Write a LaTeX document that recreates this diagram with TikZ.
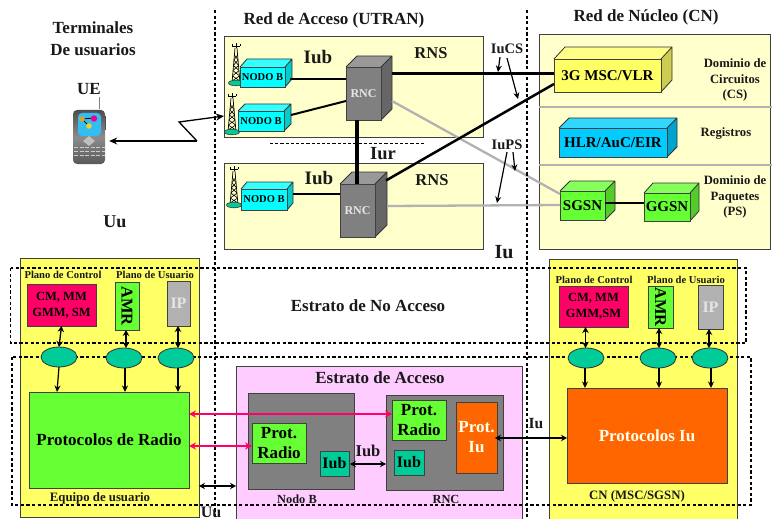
\documentclass[tikz,border=0pt]{standalone}
\usepackage{fontspec}
\usepackage{graphicx}
\setmainfont{Liberation Serif}
\usetikzlibrary{arrows.meta,calc,shapes.geometric}
\definecolor{paleY}{HTML}{FFFFCC}
\definecolor{yel}{HTML}{FFFF66}
\definecolor{lilac}{HTML}{FFCCFF}
\definecolor{crim}{HTML}{FF0066}
\definecolor{lime}{HTML}{66FF33}
\definecolor{teal2}{HTML}{00CC99}
\definecolor{orng}{HTML}{FF6600}
\definecolor{gr1}{HTML}{808080}
\definecolor{gr2}{HTML}{B2B2B2}
\definecolor{cyanF}{HTML}{00FFFF}\definecolor{cyanT}{HTML}{33FFFF}\definecolor{cyanS}{HTML}{00CCCC}
\definecolor{rncF}{HTML}{808080}\definecolor{rncT}{HTML}{999999}\definecolor{rncS}{HTML}{666666}
\definecolor{mscF}{HTML}{FFFF66}\definecolor{mscT}{HTML}{FFFF85}\definecolor{mscS}{HTML}{CCCC52}
\definecolor{hlrF}{HTML}{00CCFF}\definecolor{hlrT}{HTML}{33D6FF}\definecolor{hlrS}{HTML}{00A3CC}
\definecolor{sgF}{HTML}{66FF33}\definecolor{sgT}{HTML}{85FF5C}\definecolor{sgS}{HTML}{52CC29}
\newcommand{\ft}[1]{\fontsize{#1}{#1}\selectfont\bfseries}
\tikzset{
  x=1pt,y=-1pt,
  box/.style={draw=black!75,line width=0.9pt,inner sep=0pt,outer sep=0pt,align=center,text=black},
  lbl/.style={inner sep=0pt,align=center,text=black!90},
  conn/.style={line width=#1,draw=black},
  grayconn/.style={line width=2.3pt,draw=gr2},
  dbl/.style={line width=1.3pt,{Stealth[length=6pt,width=6.5pt]}-{Stealth[length=6pt,width=6.5pt]}},
  arr/.style={line width=1.2pt,-{Stealth[length=6.5pt,width=6pt]}},
  pinkarr/.style={line width=1.3pt,draw=crim,{Stealth[length=7pt,width=7pt]}-{Stealth[length=7pt,width=7pt]}},
  dashline/.style={line width=1.2pt,dash pattern=on 3.2pt off 2.4pt},
  sap/.style={ellipse,draw=black!80,line width=0.8pt,fill=teal2,minimum width=36pt,minimum height=20pt,inner sep=0pt,outer sep=0pt},
}
% name x1 y1 x2 y2 style text
\newcommand{\bx}[7]{\node[box,#6,minimum width={(#4-#2)*1pt},minimum height={(#5-#3)*1pt}] (#1) at ({(#2+#4)/2},{(#3+#5)/2}) {#7};}
% name x1 y1 x2 y2 dx dy colourprefix text
\newcommand{\cube}[9]{%
  \fill[#8T] (#2,#3) -- ({#2+#6},{#3-#7}) -- ({#4+#6},{#3-#7}) -- (#4,#3) -- cycle;
  \fill[#8S] (#4,#3) -- ({#4+#6},{#3-#7}) -- ({#4+#6},{#5-#7}) -- (#4,#5) -- cycle;
  \draw[black!80,line width=0.8pt,line join=round] (#2,#3) -- ({#2+#6},{#3-#7}) -- ({#4+#6},{#3-#7}) -- ({#4+#6},{#5-#7}) -- (#4,#5) (#4,#3) -- ({#4+#6},{#3-#7});
  \bx{#1}{#2}{#3}{#4}{#5}{fill=#8F}{#9}}
% tower: x top bottom
\newcommand{\tower}[3]{%
  \draw[black,line width=0.6pt] (#1-4,#2+1) -- (#1+4,#2+1) (#1-4,#2-1) -- (#1-4,#2+1) (#1+4,#2-1) -- (#1+4,#2+1) (#1,#2-2) -- (#1,#2+3);
  \draw[black,line width=0.7pt] (#1-1,#2+3) -- (#1-4,#3) (#1+1,#2+3) -- (#1+4,#3);
  \foreach \k in {0.2,0.35,0.5,0.65,0.8}{\draw[black,line width=0.6pt] ($(#1-1,#2+3)!\k!(#1-4,#3)$) -- ($(#1+1,#2+3)!{\k+0.14}!(#1+4,#3)$) ($(#1+1,#2+3)!\k!(#1+4,#3)$) -- ($(#1-1,#2+3)!{\k+0.14}!(#1-4,#3)$);}
  \draw[black!80,fill=teal2,line width=0.6pt] (#1,#3) ellipse [x radius=7.5pt,y radius=2.8pt];}
\begin{document}
\begin{tikzpicture}
\useasboundingbox (0,0) rectangle (772,519);
% ---------- top: panels
\bx{rnsa}{224}{36}{483}{137}{fill=paleY}{}
\bx{rnsb}{224}{163}{483}{249}{fill=paleY}{}
\bx{cnbox}{539}{34}{770}{249}{fill=paleY}{}
\draw[gr2,line width=2pt] (cnbox.west |- 0,107) -- (772,107) (cnbox.west |- 0,165) -- (772,165);
% towers
\tower{236}{45}{83}
\tower{232}{95}{132}
\tower{234}{168}{205}
% cubes
\cube{nba}{240}{67}{285}{87}{7}{8}{cyan}{\ft{10.5}NODO B}
\cube{nbb}{238}{111}{284}{131}{7}{7}{cyan}{\ft{10.5}NODO B}
\cube{nbc}{241}{189}{287}{210}{6}{7}{cyan}{\ft{10.5}NODO B}
\cube{rnca}{346}{67}{381}{120}{11}{11}{rnc}{\ft{12}\color{white!90!black}RNC}
\cube{rncb}{340}{184}{375}{237}{12}{12}{rnc}{\ft{12}\color{white!90!black}RNC}
\draw[conn=1.8pt] ([xshift=5pt]nba.east |- 0,79) -- (rnca.west |- 0,79);
\draw[conn=2pt] ([xshift=7pt,yshift=6pt]nbb.east) -- (rnca.west |- 0,101);
\draw[conn=1.6pt] ([xshift=6pt,yshift=5.5pt]nbc.east) -- (rncb.west |- 0,194);
\draw[conn=3.5pt] (rnca.south -| 357,0) -- (rncb.north -| 357,0);
\cube{msc}{554}{59}{661}{92}{11}{12}{msc}{\ft{15}3G MSC/VLR}
\cube{hlr}{559}{128}{667}{157}{10}{10}{hlr}{\ft{15}HLR/AuC/EIR}
\cube{sgsn}{560}{191}{605}{220}{10}{10}{sg}{\ft{15}SGSN}
\cube{ggsn}{644}{193}{690}{221}{9}{10}{sg}{\ft{15}GGSN}
\draw[conn=2pt] (sgsn.east |- 0,203) -- (ggsn.west |- 0,203);
% core links
\draw[grayconn] ([xshift=11pt,yshift=-7.5pt]rnca.east) -- ([yshift=-3pt]sgsn.north west);
\draw[grayconn] ([xshift=12pt,yshift=4.5pt]rncb.east) -- (sgsn.west |- 0,205);
\draw[conn=3pt] ([xshift=11pt,yshift=19.5pt]rnca.east) -- (msc.west |- 0,74);
\draw[conn=2.5pt] ([xshift=11pt,yshift=30pt]rncb.east) -- (msc.west |- 0,84);
% top labels
\node[lbl,font=\ft{17}] (tit1) at (93,39) {Terminales\\[5pt]De usuarios};
\node[lbl,font=\ft{17}] (tit2) at (334,20) {Red de Acceso (UTRAN)};
\node[lbl,font=\ft{17}] (tit3) at (646,17) {Red de N\'ucleo (CN)};
\node[lbl,font=\ft{17}] (ue) at (89,89) {UE};
\node[lbl,font=\ft{18}] (uutop) at (115,222) {Uu};
\node[lbl,font=\ft{19}] (iua) at (318,57) {Iub};
\node[lbl,font=\ft{19}] (iub) at (319,178) {Iub};
\node[lbl,font=\ft{18.5}] (iur) at (383,154) {Iur};
\node[lbl,font=\ft{16.5}] (rnsla) at (431,53) {RNS};
\node[lbl,font=\ft{16.5}] (rnslb) at (432,180) {RNS};
\node[lbl,font=\ft{14.5}] (iucs) at (507,49) {IuCS};
\node[lbl,font=\ft{14.5}] (iups) at (507,145) {IuPS};
\node[lbl,font=\ft{20}] (iutop) at (504,252) {Iu};
\node[lbl,font=\ft{12.7}] (dcs) at (735,80) {Dominio de\\[3pt]Circuitos\\[3pt](CS)};
\node[lbl,font=\ft{12.7}] (reg) at (726,133) {Registros};
\node[lbl,font=\ft{12.7}] (dps) at (735,197) {Dominio de\\[3pt]Paquetes\\[3pt](PS)};
\coordinate (csa) at (498,72);
\coordinate (csb) at (518,99);
\coordinate (psa) at (497,203);
\coordinate (psb) at (515,171);
\draw[arr] ([xshift=-7pt,yshift=-3pt]iucs.south) -- (csa);
\draw[arr] ([yshift=-4pt]iucs.south) -- (csb);
\draw[arr] ([yshift=-2pt]iups.south) -- (psa);
\draw[arr] ([xshift=6pt,yshift=-2pt]iups.south) -- (psb);
\coordinate (dsa) at (270,143);
\coordinate (dsb) at (425,143);
\draw[line width=1pt,dash pattern=on 3.2pt off 2pt] (dsa) -- (dsb);
% phone
\draw[gr1,line width=1pt] (99.5,97) -- (99.5,109);
\draw[black!70,line width=1pt] (73,116) -- (73,130) (105.5,116) -- (105.5,130);
\node[rounded corners=4pt,minimum width=32pt,minimum height=54pt,inner sep=0pt,top color=black!70,bottom color=black!65,middle color=black!45] (phone) at (89,137) {};
\fill[cyan!80!white,rounded corners=4pt] (78,113) rectangle (101,136);
\draw[black,line width=0.8pt] (82,119) -- (94,118) (82,119) -- (89,126);
\fill[magenta] (94,118.5) circle (3.2pt);
\fill[brown!70!yellow] (82,119) circle (2.8pt);
\fill[yellow!70!brown] (89,126) circle (2.8pt);
\fill[black!25] (89,136) -- (95,141) -- (89,146) -- (83,141) -- cycle;
\foreach \yy in {147,151,155}{\draw[black!20,line width=0.8pt,dash pattern=on 4pt off 1.5pt] (74,\yy) -- (105,\yy);}
\coordinate (zz1) at (197,141);
\coordinate (zz2) at (179,122);
\draw[line width=1.3pt,{Stealth[length=8pt,width=7pt]}-] (phone.east |- zz1) ++(4pt,0) -- (zz1);
\draw[line width=1.3pt,-{Stealth[length=8pt,width=7pt]},line join=miter] (zz1) -- (zz2) -- (rnsa.west |- 0,116);
% ---------- bottom: panels
\bx{ueb}{20}{258}{199}{517}{fill=yel}{}
\bx{cnb}{549}{259}{737}{521}{fill=yel}{}
\bx{pink}{236}{366}{522}{523}{fill=lilac}{}
\bx{radio}{29}{392}{189}{488}{fill=lime,font=\ft{17}}{Protocolos de Radio}
\bx{nodeB}{248}{393}{354}{489}{fill=gr1}{}
\bx{rncB}{386}{395}{503}{490}{fill=gr1}{}
\bx{pr1}{252}{423}{306}{463}{fill=lime,font=\ft{17}}{Prot.\\[3pt]Radio}
\bx{ib1}{320}{451}{349}{476}{fill=teal2,font=\ft{16}}{Iub}
\bx{pr2}{392}{400}{446}{440}{fill=lime,font=\ft{17}}{Prot.\\[3pt]Radio}
\bx{ib2}{394}{450}{424}{475}{fill=teal2,font=\ft{16}}{Iub}
\bx{piu}{456}{402}{497}{473}{fill=orng,font=\ft{17},text=white!92!yellow}{Prot.\\[3pt]Iu}
\bx{pIu}{567}{388}{727}{483}{fill=orng,font=\ft{17},text=white!92!yellow}{Protocolos Iu}
% strata
\coordinate (s1a) at (10.5,268);
\coordinate (s1b) at (746,343);
\coordinate (s2a) at (12,357);
\coordinate (s2b) at (751,505);
\draw[dashline] (s1a) rectangle (s1b);
\draw[dashline] (s2a) rectangle (s2b);
\draw[dashline] (215,10) -- (215,519);
\draw[dashline] (527,10) -- (527,519);
% stack boxes
\bx{cm1}{27}{284}{96}{326}{fill=crim,font=\ft{12.5}}{CM, MM\\[3.5pt]GMM, SM}
\bx{amr1}{115}{282}{139}{330}{fill=lime}{\rotatebox{-90}{\ft{16.5}AMR}}
\bx{ip1}{167}{281}{190}{326}{fill=gr2,font=\ft{16},text=white!90!black}{IP}
\bx{cm2}{559}{286}{628}{327}{fill=crim,font=\ft{12.5}}{CM, MM\\[3.5pt]GMM,SM}
\bx{amr2}{648}{286}{673}{328}{fill=lime}{\rotatebox{-90}{\ft{16.5}AMR}}
\bx{ip2}{698}{285}{723}{329}{fill=gr2,font=\ft{16},text=white!90!black}{IP}
% SAP ellipses
\node[sap] (e1) at (59,357) {};
\node[sap] (e2) at (124,358) {};
\node[sap] (e3) at (176,358) {};
\node[sap] (e4) at (586,358) {};
\node[sap] (e5) at (658,358) {};
\node[sap] (e6) at (710,358) {};
\draw[dbl] (cm1.south) -- (e1.north);
\draw[dbl] (amr1.south -| 126,0) -- (e2.north -| 126,0);
\draw[dbl] (ip1.south -| 178,0) -- (e3.north -| 178,0);
\draw[dbl] (cm2.south -| 585.5,0) -- (e4.north -| 585.5,0);
\draw[dbl] (amr2.south -| 659,0) -- (e5.north -| 659,0);
\draw[dbl] (ip2.south -| 709,0) -- (e6.north -| 709,0);
\draw[arr] (e1.south) -- (radio.north -| 57,0);
\draw[arr] (e2.south -| 125,0) -- (radio.north -| 125,0);
\draw[arr] (e3.south -| 178,0) -- (radio.north -| 178,0);
\draw[arr] (e4.south -| 585,0) -- (pIu.north -| 585,0);
\draw[arr] (e5.south -| 659,0) -- (pIu.north -| 659,0);
\draw[arr] (e6.south -| 711,0) -- (pIu.north -| 711,0);
% interface arrows
\draw[pinkarr] (radio.east |- 0,414) -- (pr2.west |- 0,414);
\draw[pinkarr] (radio.east |- 0,446) -- (pr1.west |- 0,446);
\draw[dbl] (ueb.east |- 0,486) -- (pink.west |- 0,486);
\draw[dbl] (ib1.east |- 0,464) ++(1pt,0) -- (rncB.west |- 0,464);
\draw[dbl] (piu.east |- 0,438) ++(-2pt,0) -- (pIu.west |- 0,438);
% bottom labels
\node[lbl,font=\ft{10.6}] (pc1) at (63,275) {Plano de Control};
\node[lbl,font=\ft{10.6}] (pu1) at (155,275) {Plano de Usuario};
\node[lbl,font=\ft{10.6}] (pc2) at (594,280) {Plano de Control};
\node[lbl,font=\ft{10.6}] (pu2) at (686,280) {Plano de Usuario};
\node[lbl,font=\ft{17}] (ena) at (368,306) {Estrato de No Acceso};
\node[lbl,font=\ft{17}] (eac) at (380,378) {Estrato de Acceso};
\node[lbl,font=\ft{12.8}] (eqp) at (100,498) {Equipo de usuario};
\node[lbl,font=\ft{12.4}] (nbl) at (297,499) {Nodo B};
\node[lbl,font=\ft{12.4}] (rnl) at (446,499) {RNC};
\node[lbl,font=\ft{12.8}] (cnl) at (637,496) {CN (MSC/SGSN)};
\node[lbl,font=\ft{16.5}] (iubl) at (368,451) {Iub};
\node[lbl,font=\ft{15.5}] (iul) at (536,424) {Iu};
\node[lbl,font=\ft{16},anchor=base] (uul) at (211,517) {Uu};
\end{tikzpicture}
\end{document}
